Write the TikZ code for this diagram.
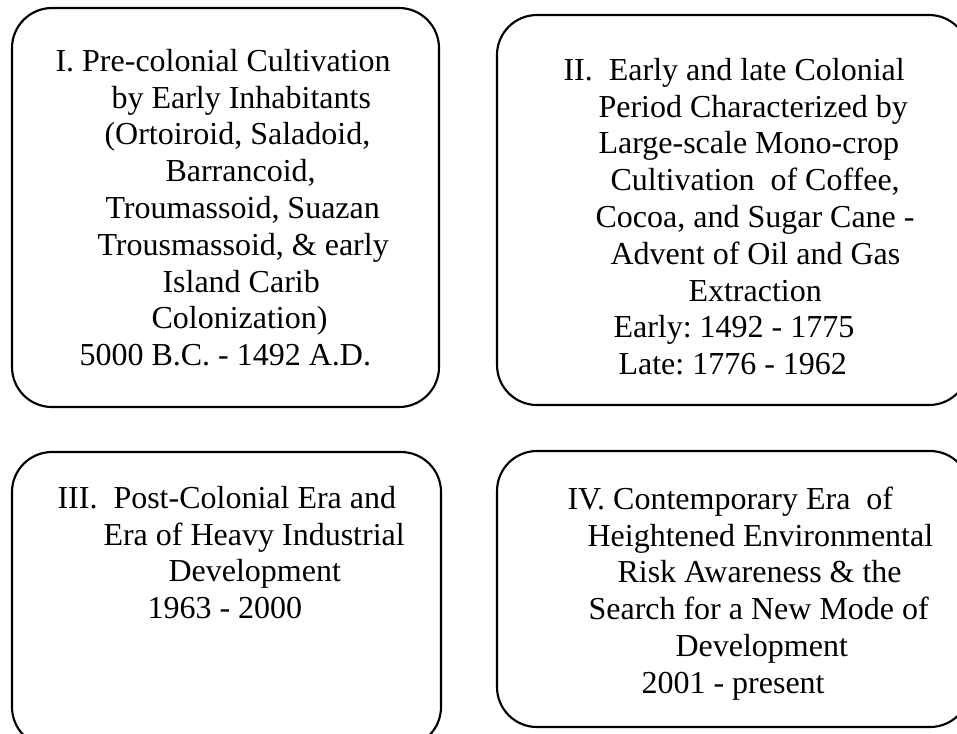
\documentclass[tikz,border=0pt]{standalone}
\usepackage{fontspec}
\setmainfont{Liberation Serif}
\frenchspacing
\newlength{\pxlen}\setlength{\pxlen}{0.375pt}
\newcommand{\ind}[1]{\hspace*{#1\pxlen}}

\begin{document}
\begin{tikzpicture}[x=0.375pt,y=-0.375pt,
 era/.style={draw,line width=0.8pt,rounded corners=15pt,inner sep=0pt},
 txt/.style={anchor=north west,inner sep=0pt,align=left,font=\fontsize{12}{13.8}\selectfont}]
\useasboundingbox (0,0) rectangle (957,733);
\clip (0,0) rectangle (957,733);
% the four periods
\foreach \n/\cx/\cy/\w/\h in {1/225.5/207.5/427/399,2/733/210/472/390,3/226.5/599.5/429/295,4/733.5/589/473/276}
 \node[era,minimum width=\w*0.375pt,minimum height=\h*0.375pt] (p\n) at (\cx,\cy) {};
\node[txt] (t1) at (55,45) {\strut I. Pre-colonial Cultivation\\ \ind{56}by Early Inhabitants\\ \ind{49}(Ortoiroid, Saladoid,\\ \ind{110}Barrancoid,\\ \ind{50}Troumassoid, Suazan\\ \ind{42}Trousmassoid, \& early\\ \ind{107}Island Carib\\ \ind{96}Colonization)\\ \ind{24}5000 B.C. - 1492 A.D.};
\node[txt] (t2) at (563,54) {\strut II.\ \ Early and late Colonial\\ \ind{35}Period Characterized by\\ \ind{35}Large-scale Mono-crop\\ \ind{47}Cultivation\ \ of Coffee,\\ \ind{32}Cocoa, and Sugar Cane -\\ \ind{47}Advent of Oil and Gas\\ \ind{125}Extraction\\ \ind{50}Early: 1492 - 1775\\ \ind{55}Late: 1776 - 1962};
\node[txt] (t3) at (57,482) {\strut III.\ \ Post-Colonial Era and\\ \ind{46}Era of Heavy Industrial\\ \ind{111}Development\\ \ind{90}1963 - 2000};
\node[txt] (t4) at (567,483) {\strut IV. Contemporary Era\ \ of\\ \ind{20}Heightened Environmental\\ \ind{50}Risk Awareness \& the\\ \ind{21}Search for a New Mode of\\ \ind{108}Development\\ \ind{74}2001 - present};
\end{tikzpicture}
\end{document}
